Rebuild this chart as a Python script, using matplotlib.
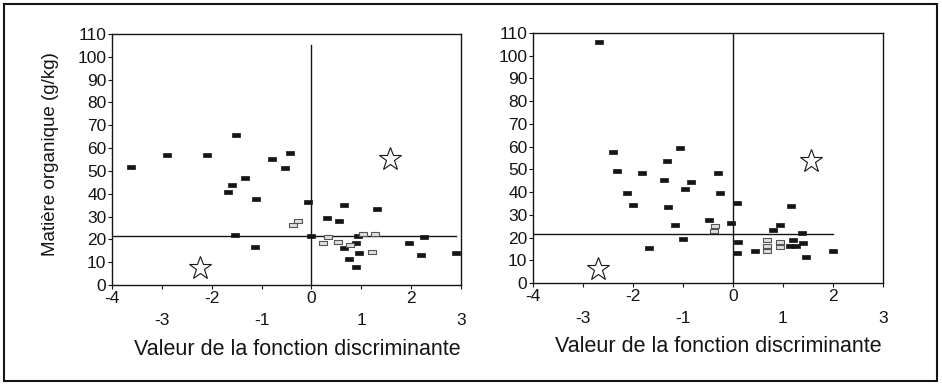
import matplotlib
matplotlib.use("Agg")
import matplotlib.pyplot as plt
import numpy as np
from matplotlib.patches import Rectangle

plt.rcParams['font.family'] = ['Liberation Sans', 'DejaVu Sans']

# left panel
blackL_x = [-3.61, -2.90, -2.09, -1.51, -1.33, -1.59, -1.67, -1.11, -1.53, -1.13,
            -0.79, -0.54, -0.43, -0.06, 0.0, 0.32, 0.55, 0.66, 1.31, 0.65,
            0.89, 0.76, 0.89, 0.96, 0.93, 1.96, 2.25, 2.19, 2.89]
blackL_y = [51.6, 56.8, 56.8, 65.7, 47.0, 43.7, 40.8, 37.7, 21.8, 16.8,
            55.1, 51.2, 57.9, 36.3, 21.5, 29.2, 28.2, 35.2, 33.4, 16.4,
            18.3, 11.3, 8.0, 14.2, 21.5, 18.3, 21.2, 13.3, 13.9]
hatchL_x = [-0.36, -0.27, 0.24, 0.34, 0.54, 0.77, 1.04, 1.27, 1.21]
hatchL_y = [26.3, 28.1, 18.5, 20.9, 19.0, 17.5, 22.2, 22.2, 14.3]
starL_x = [-2.24, 1.575]
starL_y = [7.3, 55.4]

# right panel
blackR_x = [-2.68, -2.40, -2.32, -2.12, -1.99, -1.81, -1.68, -1.38, -1.32, -1.29,
            -1.15, -1.05, -1.0, -0.95, -0.84, -0.47, -0.30, -0.25, -0.03, 0.08,
            0.11, 0.08, 0.45, 0.81, 0.94, 1.17, 1.21, 1.14, 1.26, 1.38,
            1.41, 1.47, 2.0]
blackR_y = [106.2, 57.5, 49.4, 39.4, 34.4, 48.4, 15.3, 45.4, 53.5, 33.5,
            25.4, 59.6, 19.4, 41.3, 44.4, 27.6, 48.2, 39.4, 26.2, 35.3,
            18.2, 13.1, 14.0, 23.2, 25.5, 34.1, 19.1, 16.2, 16.2, 22.2,
            17.4, 11.5, 14.0]
hatchR_x = [-0.36, -0.38, 0.68, 0.68, 0.68, 0.94, 0.94]
hatchR_y = [25.0, 23.0, 19.0, 16.5, 14.0, 18.0, 16.0]
starR_x = [-2.70, 1.56]
starR_y = [6.3, 53.8]

# reference lines: (y of horizontal, x end of horizontal, y top of vertical)
hline_y = [21.5, 21.5]
hline_end = [2.9, 2.0]
vline_top = [105, 110]

ylabel = "Matière organique (g/kg)"
xlabel = "Valeur de la fonction discriminante"

rect = [(-1, -0.6), (1, -0.6), (1, 0.6), (-1, 0.6), (-1, -0.6)]
ink = '#151515'

fig = plt.figure(figsize=(9.42, 3.84), dpi=100)
axL = fig.add_axes([0.1189, 0.2578, 0.3705, 0.6536])
axR = fig.add_axes([0.5658, 0.2630, 0.3715, 0.6510])

panels = [
    (axL, blackL_x, blackL_y, hatchL_x, hatchL_y, starL_x, starL_y),
    (axR, blackR_x, blackR_y, hatchR_x, hatchR_y, starR_x, starR_y),
]

for i, (ax, bx, by, hx, hy, sx, sy) in enumerate(panels):
    ax.plot([0, 0], [0, vline_top[i]], color=ink, lw=1.0, zorder=1)
    ax.plot([-4, hline_end[i]], [hline_y[i], hline_y[i]], color=ink, lw=1.0, zorder=1)
    ax.plot(bx, by, ls='none', marker=rect, ms=5.5, mfc=ink, mec=ink, mew=0.5, zorder=3)
    ax.plot(hx, hy, ls='none', marker=rect, ms=5.5, mfc='#e0e0e0', mec='#555555',
            mew=0.8, zorder=3)
    ax.plot(sx, sy, ls='none', marker='*', ms=17, mfc='white', mec=ink, mew=0.8, zorder=3)

    ax.set_xlim(-4, 3)
    ax.set_ylim(0, 110)
    ax.set_yticks(np.arange(0, 111, 10))
    ax.set_xticks([-4, -2, 0, 2])
    ax.set_xticks([-3, -1, 1, 3], minor=True)
    ax.set_xticklabels(['-4', '-2', '0', '2'])
    ax.set_xticklabels(['-3', '-1', '1', '3'], minor=True)
    ax.tick_params(axis='both', which='both', direction='out', length=3, width=0.8,
                   labelsize=12.5, colors=ink)
    ax.tick_params(axis='x', which='major', pad=1)
    ax.tick_params(axis='x', which='minor', pad=17.5)
    ax.tick_params(axis='y', pad=1)
    for s in ax.spines.values():
        s.set_linewidth(1.0)
        s.set_color(ink)

    ax.set_xlabel(xlabel, fontsize=15.5, color=ink)
    ax.xaxis.set_label_coords(0.53, -0.255)
    ax.xaxis.label.set_verticalalignment('center')

axL.set_ylabel(ylabel, fontsize=13.5, color=ink)
axL.yaxis.set_label_coords(-0.175, 0.522)
axL.yaxis.label.set_verticalalignment('center')

fig.patches.append(Rectangle((0.0042, 0.0078), 0.990, 0.982, transform=fig.transFigure,
                             fill=False, lw=1.5, edgecolor=ink))

fig.savefig('out.png', dpi=100)
